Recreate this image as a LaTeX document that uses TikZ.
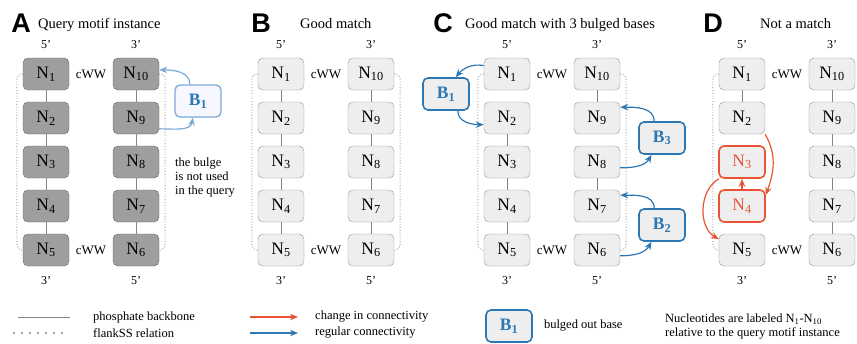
\documentclass[tikz,border=0pt]{standalone}
\usepackage{fontspec}
\setmainfont{Liberation Serif}
\setsansfont{Liberation Sans}
\usetikzlibrary{arrows,arrows.meta,positioning}
\definecolor{bulgecolor}{RGB}{44,120,180}
\definecolor{lightbulge}{RGB}{120,170,215}
\definecolor{changecolor}{RGB}{232,84,52}
\definecolor{nuclight}{RGB}{238,238,238}
\definecolor{nucdark}{RGB}{158,158,158}
\tikzset{
	nuc/.style={
		rectangle,
		rounded corners=5pt,
		draw=gray!85,
		fill=nuclight,
		minimum width=46pt,
		minimum height=32pt,
		font=\fontsize{17.5}{17.5}\selectfont
	},
	query/.style={
		nuc,
		draw=gray!120,
		fill=nucdark
	},
	changed/.style={
		nuc,
		draw=changecolor,
		line width=1.6pt,
		text=changecolor
	},
	altD3/.style={changed},
	altD4/.style={changed},
	bulge/.style={
		nuc,
		draw=bulgecolor,
		line width=1.6pt,
		text=bulgecolor,
		font=\fontsize{17.5}{17.5}\selectfont\bfseries
	},
	lightbulge/.style={
		bulge,
		draw=lightbulge,
		fill=blue!3,
		line width=1.3pt
	},
	backbone/.style={
		draw=gray!95,
		line width=0.9pt
	},
	flank/.style={
		draw=gray!75,
		line width=1pt,
		dash pattern=on 0.9pt off 1.9pt,
		rounded corners=5pt
	},
	barrow/.style={
		draw=bulgecolor,
		line width=1.2pt,
		-{Stealth[length=8pt,width=6.5pt]}
	},
	larrow/.style={
		barrow,
		draw=lightbulge
	},
	carrow/.style={
		barrow,
		draw=changecolor
	},
	panel/.style={
		font=\sffamily\bfseries\fontsize{27}{27}\selectfont,
		anchor=base,
		inner sep=0pt
	},
	title/.style={
		font=\fontsize{14.5}{16}\selectfont,
		anchor=base west,
		inner sep=0pt
	},
	prime/.style={
		font=\fontsize{12}{12}\selectfont
	},
	pair/.style={
		font=\fontsize{13}{13}\selectfont
	},
	legend/.style={
		font=\fontsize{12.5}{14}\selectfont,
		inner sep=0pt
	}
}

\begin{document}
\begin{tikzpicture}[x=1pt,y=1pt]
\useasboundingbox (0,0) rectangle (857,-343);

% panel titles
\node[panel] (pA) at (21,-32) {A};
\node[title] (tA) at (38,-28) {Query motif instance};
\node[panel] (pB) at (261,-32) {B};
\node[title] (tB) at (300,-28) {Good match};
\node[panel] (pC) at (443,-32) {C};
\node[title] (tC) at (465,-28) {Good match with 3 bulged bases};
\node[panel] (pD) at (713,-32) {D};
\node[title] (tD) at (760,-28) {Not a match};

% the two strands of every panel
\foreach \p/\x/\s in {A/46/query,B/281/nuc,C/507/nuc,D/742/nuc}{
	\node[prime] at (\x,-45) {5'};
	\node[prime] at (\x+90,-45) {3'};
	\node[prime] at (\x,-281) {3'};
	\node[prime] at (\x+90,-281) {5'};
	\node[pair] at (\x+45,-74) {cWW};
	\node[pair] at (\x+45,-250) {cWW};
	\foreach \i in {1,...,5}{
		\pgfmathtruncatemacro\j{11-\i}
		\node[\s,alt\p\i/.try] (\p\i) at (\x,-30-44*\i) {N\textsubscript{\i}};
		\node[\s,alt\p\j/.try] (\p\j) at (\x+90,-30-44*\i) {N\textsubscript{\j}};
	}
	\draw[flank] (\p1.west) -- ++(-6,0) |- (\p5.west);
}
\foreach \p in {A,B,C}
	\draw[flank] (\p10.east) -- ++(6,0) |- (\p6.east);

% phosphate backbone
\foreach \p in {A,B}
	\foreach \a/\b in {1/2,2/3,3/4,4/5,6/7,7/8,8/9,9/10}
		\draw[backbone] (\p\a) -- (\p\b);
\foreach \a/\b in {2/3,3/4,4/5,7/8,9/10}
	\draw[backbone] (C\a) -- (C\b);
\foreach \a/\b in {1/2,6/7,7/8,8/9,9/10}
	\draw[backbone] (D\a) -- (D\b);

% bulges
\node[lightbulge] (AB1) at (198,-101) {B\textsubscript{1}};
\node[bulge] (CB1) at (446,-94) {B\textsubscript{1}};
\node[bulge] (CB3) at (662,-138) {B\textsubscript{3}};
\node[bulge] (CB2) at (662,-225) {B\textsubscript{2}};

\draw[larrow] (A9.-25) to[out=0,in=-100] (AB1.253);
\draw[larrow] (AB1.116) to[out=90,in=0] (A10.10);
\node[legend,anchor=north west,align=left] (note) at (175,-158)
	{the bulge\\is not used\\in the query};

\draw[barrow] (C1.160) to[out=170,in=50] (CB1.60);
\draw[barrow] (CB1.305) to[out=-90,in=180] (C2.196);
\draw[barrow] (C8.-14) to[out=0,in=-120] (CB3.238);
\draw[barrow] (CB3.115) to[out=90,in=0] (C9.25);
\draw[barrow] (C6.-14) to[out=0,in=-120] (CB2.238);
\draw[barrow] (CB2.115) to[out=90,in=0] (C7.25);

\draw[carrow] (D2.-35) to[out=-60,in=70] (D4.25);
\draw[carrow] (D4) -- (D3);
\draw[carrow] (D3.216) to[out=210,in=150] (D5.155);

% legend
\node[legend,anchor=west] (lgbb) at (93,-317) {phosphate backbone};
\node[legend,anchor=west] (lgfl) at (93,-333) {flankSS relation};
\draw[backbone] ([xshift=-75pt]lgbb.west) -- ([xshift=-23pt]lgbb.west);
\draw[flank,line width=1.5pt,dash pattern=on 1.5pt off 6.5pt] ([xshift=-80pt]lgfl.west) -- ([xshift=-30pt]lgfl.west);
\node[legend,anchor=west] (lgch) at (315,-317) {change in connectivity};
\node[legend,anchor=west] (lgrg) at (315,-333) {regular connectivity};
\draw[carrow] ([xshift=-65pt]lgch.west) -- ([xshift=-17pt]lgch.west);
\draw[barrow] ([xshift=-65pt]lgrg.west) -- ([xshift=-17pt]lgrg.west);
\node[bulge] (lgB) at (509,-326) {B\textsubscript{1}};
\node[legend,right=11pt of lgB] (lgbo) {bulged out base};
\node[legend,anchor=west,align=left] (lgnote) at (665,-327)
	{Nucleotides are labeled N\textsubscript{1}-N\textsubscript{10}\\relative to the query motif instance};
\end{tikzpicture}
\end{document}
